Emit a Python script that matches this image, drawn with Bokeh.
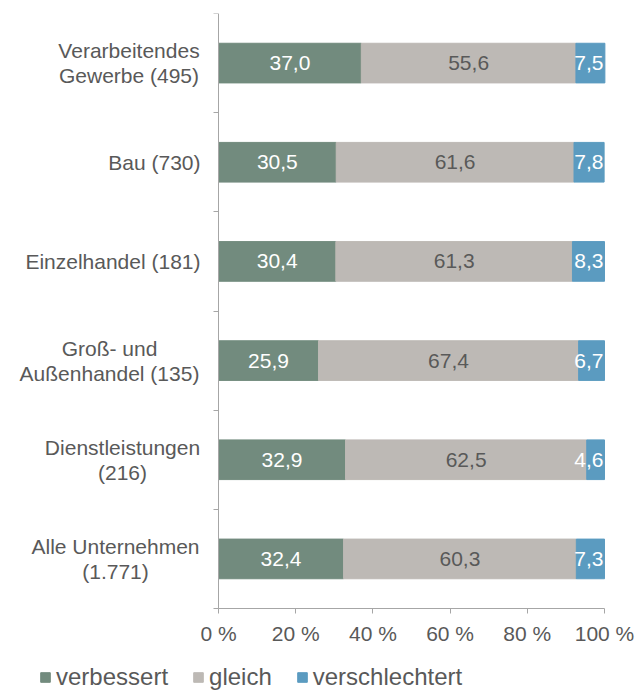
from bokeh.plotting import figure
from bokeh.models import ColumnDataSource, FixedTicker, Legend, LegendItem
from bokeh.embed import file_html
from bokeh.resources import INLINE
from bokeh.core.properties import value

# ---- data ----
categories = ["Verarbeitendes\nGewerbe (495)", "Bau (730)", "Einzelhandel (181)",
              "Groß- und\nAußenhandel (135)", "Dienstleistungen\n(216)",
              "Alle Unternehmen\n(1.771)"]
verbessert = [37.0, 30.5, 30.4, 25.9, 32.9, 32.4]
gleich = [55.6, 61.6, 61.3, 67.4, 62.5, 60.3]
verschlechtert = [7.5, 7.8, 8.3, 6.7, 4.6, 7.3]
series_names = ["verbessert", "gleich", "verschlechtert"]
x_ticks = [0, 20, 40, 60, 80, 100]
x_tick_labels = ["0 %", "20 %", "40 %", "60 %", "80 %", "100 %"]

# ---- style ----
colors = ["#728b7e", "#bdb9b5", "#5b9bc0"]
label_colors = ["#ffffff", "#595959", "#ffffff"]
text_grey = "#595959"
axis_grey = "#a6a6a6"
FONT = "Liberation Sans"
block_center_offsets = [-89.5, None, None, -109, -96, -103]
AXIS_PX = 218      # screen x of the 0 % line
RIGHT_PX = 604     # screen x of the 100 % line
TOP_PX = 13        # screen y of the top of the category axis
BOTTOM_PX = 608    # screen y of the 0 % axis line
W, H = 644, 691

n = len(categories)
ys = [n - 0.5 - i for i in range(n)]
px_per_unit = (RIGHT_PX - AXIS_PX) / 100.0
x_start = -AXIS_PX / px_per_unit
x_end = 100 + (W - RIGHT_PX) / px_per_unit
y_start = -n * (H - BOTTOM_PX) / (BOTTOM_PX - TOP_PX)

series_list = [verbessert, gleich, verschlechtert]
src = ColumnDataSource(dict(y=ys, verbessert=verbessert, gleich=gleich,
                            verschlechtert=verschlechtert))

p = figure(width=W, height=H, x_range=(x_start, x_end), y_range=(y_start, n),
           output_backend="svg", toolbar_location=None,
           min_border_left=0, min_border_right=0, min_border_top=TOP_PX,
           min_border_bottom=0)

renderers = p.hbar_stack(series_names, y="y", height=0.4, color=colors, source=src)

# value labels inside bars
for k, series in enumerate(series_list):
    starts = [sum(series_list[m][i] for m in range(k)) for i in range(n)]
    texts = [f"{v:.1f}".replace(".", ",") for v in series]
    if k < 2:
        xs = [s + v / 2 for s, v in zip(starts, series)]
        align, xoff = "center", 0
    else:
        xs = [100] * n
        align, xoff = "right", -1
    lsrc = ColumnDataSource(dict(x=xs, y=ys, t=texts))
    p.text(x="x", y="y", text="t", source=lsrc, text_align=align, x_offset=xoff,
           text_baseline="middle", text_color=label_colors[k],
           text_font=value(FONT), text_font_size=value("21px"))

# category labels (inside the frame, left of the 0 line)
single = dict(x=[], y=[], t=[])
multi = dict(x=[], y=[], t=[], xo=[], yo=[])
for i, cat in enumerate(categories):
    lines = cat.split("\n")
    if len(lines) == 1:
        single["x"].append(0); single["y"].append(ys[i]); single["t"].append(lines[0])
    else:
        for j, line in enumerate(lines):
            multi["x"].append(0); multi["y"].append(ys[i]); multi["t"].append(line)
            multi["xo"].append(block_center_offsets[i])
            multi["yo"].append(-(len(lines) - 1) / 2 * 25 + j * 25)
p.text(x="x", y="y", text="t", source=ColumnDataSource(single), x_offset=-18,
       text_align="right", text_baseline="middle", text_color=text_grey,
       text_font=value(FONT), text_font_size=value("21px"))
p.text(x="x", y="y", text="t", source=ColumnDataSource(multi), x_offset="xo",
       y_offset="yo", text_align="center", text_baseline="middle",
       text_color=text_grey, text_font=value(FONT), text_font_size=value("21px"))

# axes
p.xaxis.fixed_location = 0
p.xaxis.ticker = FixedTicker(ticks=x_ticks)
p.xaxis.bounds = (0, 100)
p.xaxis.major_label_overrides = dict(zip(x_ticks, x_tick_labels))
p.xaxis.minor_tick_line_color = None
p.xaxis.major_tick_out = 5
p.xaxis.major_tick_in = 0
p.xaxis.axis_line_color = axis_grey
p.xaxis.major_tick_line_color = axis_grey
p.xaxis.major_label_text_font = FONT
p.xaxis.major_label_text_font_size = "21px"
p.xaxis.major_label_text_color = text_grey
p.xaxis.major_label_standoff = 8

p.yaxis.fixed_location = 0
p.yaxis.ticker = FixedTicker(ticks=list(range(n + 1)))
p.yaxis.bounds = (0, n)
p.yaxis.minor_tick_line_color = None
p.yaxis.major_tick_out = 5
p.yaxis.major_tick_in = 0
p.yaxis.axis_line_color = axis_grey
p.yaxis.major_tick_line_color = axis_grey
p.yaxis.major_label_text_font_size = "0px"

p.xgrid.visible = False
p.ygrid.visible = False
p.outline_line_color = None

legend = Legend(items=[LegendItem(label=nm, renderers=[r]) for nm, r in zip(series_names, renderers)],
                location=(39, 0), orientation="horizontal",
                label_text_font=FONT, label_text_font_size="24px",
                label_text_color=text_grey, glyph_width=12, glyph_height=12,
                label_standoff=5, spacing=24, padding=0, margin=0,
                border_line_color=None, background_fill_alpha=0)
p.add_layout(legend)

open("out.html", "w").write(file_html(p, INLINE))
